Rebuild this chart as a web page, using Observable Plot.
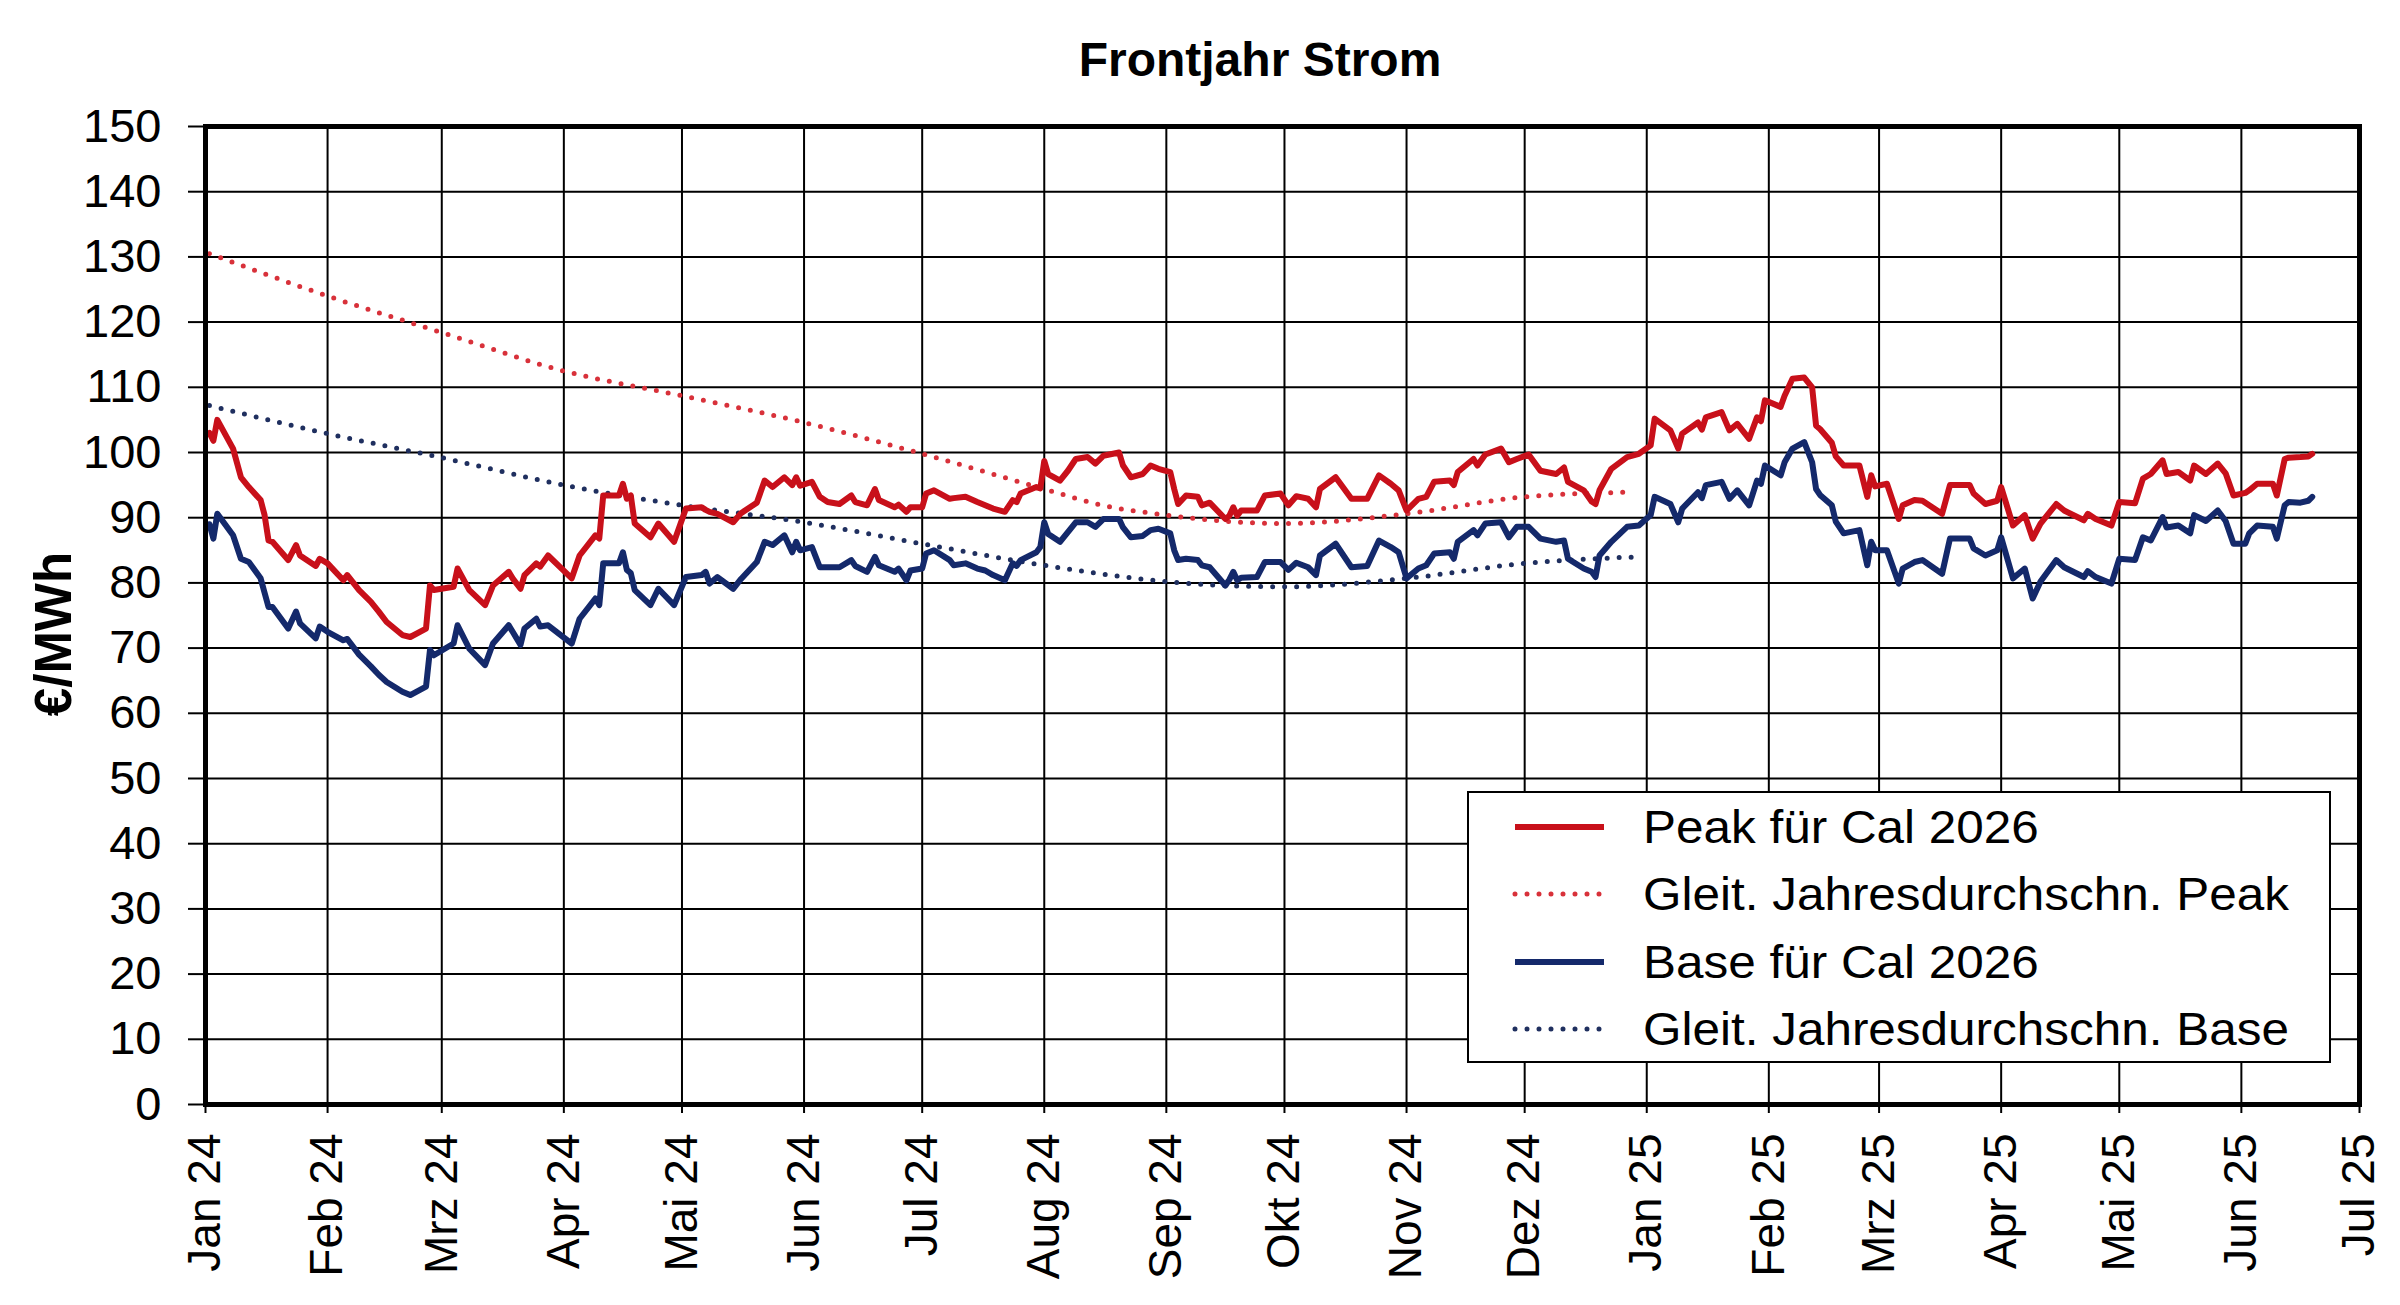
<!DOCTYPE html>
<html>
<head>
<meta charset="utf-8">
<script src="https://cdn.jsdelivr.net/npm/d3@7"></script>
<script src="https://cdn.jsdelivr.net/npm/@observablehq/plot@0.6"></script>
<style>
  html, body { margin: 0; padding: 0; background: #fff; }
  #wrap { position: relative; width: 2400px; height: 1305px; font-family: "Liberation Sans", Arial, sans-serif; color: #000; }
  #title { height: 100px; box-sizing: border-box; padding-top: 36px; padding-left: 120px; text-align: center; font-size: 48px; line-height: 48px; font-weight: bold; }
  #ylabel { position: absolute; left: 53px; top: 634px; transform: translate(-50%, -50%) rotate(-90deg); font-size: 51px; line-height: 51px; font-weight: bold; white-space: nowrap; }
  #legend { position: absolute; left: 1467px; top: 791px; width: 864px; height: 272px; box-sizing: border-box; border: 2px solid #000; background: #fff; }
  .row { height: 67.5px; display: flex; align-items: center; font-size: 46px; }
  .row svg { margin-left: 43px; margin-right: 36px; flex: none; }
  .row span { display: inline-block; transform: scaleX(1.075); transform-origin: left center; white-space: nowrap; }
  g[aria-label="y-axis tick label"] { font-size: 47px; }
</style>
</head>
<body>
<div id="wrap">
  <div id="title">Frontjahr Strom</div>
  <div id="chart"></div>
  <div id="ylabel">€/MWh</div>
  <div id="legend"></div>
</div>
<script>
// ---- Daily settlement prices, €/MWh ----
const dates = [
"2024-01-02","2024-01-03","2024-01-04","2024-01-08","2024-01-10","2024-01-12","2024-01-15","2024-01-16","2024-01-17","2024-01-18",
"2024-01-22","2024-01-24","2024-01-25","2024-01-29","2024-01-30","2024-02-01","2024-02-05","2024-02-06","2024-02-09","2024-02-12",
"2024-02-14","2024-02-16","2024-02-20","2024-02-22","2024-02-26","2024-02-27","2024-02-28","2024-03-04","2024-03-05","2024-03-08",
"2024-03-12","2024-03-14","2024-03-18","2024-03-19","2024-03-21","2024-03-22","2024-03-25","2024-03-26","2024-03-28","2024-04-03",
"2024-04-05","2024-04-09","2024-04-10","2024-04-11","2024-04-15","2024-04-16","2024-04-17","2024-04-18","2024-04-19","2024-04-23",
"2024-04-25","2024-04-29","2024-05-02","2024-05-06","2024-05-07","2024-05-08","2024-05-10","2024-05-14","2024-05-16","2024-05-20",
"2024-05-22","2024-05-24","2024-05-27","2024-05-29","2024-05-30","2024-05-31","2024-06-03","2024-06-05","2024-06-07","2024-06-10",
"2024-06-13","2024-06-14","2024-06-17","2024-06-19","2024-06-20","2024-06-24","2024-06-25","2024-06-27","2024-06-28","2024-07-01",
"2024-07-02","2024-07-04","2024-07-08","2024-07-09","2024-07-12","2024-07-15","2024-07-17","2024-07-19","2024-07-22","2024-07-24",
"2024-07-25","2024-07-26","2024-07-30","2024-07-31","2024-08-01","2024-08-02","2024-08-05","2024-08-07","2024-08-09","2024-08-12",
"2024-08-14","2024-08-16","2024-08-20","2024-08-21","2024-08-23","2024-08-26","2024-08-28","2024-08-30","2024-09-02","2024-09-03",
"2024-09-04","2024-09-06","2024-09-09","2024-09-10","2024-09-12","2024-09-16","2024-09-17","2024-09-18","2024-09-19","2024-09-20",
"2024-09-24","2024-09-26","2024-09-30","2024-10-02","2024-10-04","2024-10-07","2024-10-09","2024-10-10","2024-10-14","2024-10-18",
"2024-10-22","2024-10-25","2024-10-28","2024-10-30","2024-11-01","2024-11-04","2024-11-06","2024-11-08","2024-11-12","2024-11-13",
"2024-11-14","2024-11-18","2024-11-19","2024-11-21","2024-11-25","2024-11-27","2024-11-29","2024-12-02","2024-12-05","2024-12-09",
"2024-12-11","2024-12-12","2024-12-16","2024-12-18","2024-12-19","2024-12-20","2024-12-23","2024-12-27","2024-12-30","2025-01-02",
"2025-01-03","2025-01-07","2025-01-09","2025-01-10","2025-01-14","2025-01-15","2025-01-16","2025-01-20","2025-01-22","2025-01-24",
"2025-01-27","2025-01-29","2025-01-30","2025-01-31","2025-02-04","2025-02-05","2025-02-07","2025-02-10","2025-02-12","2025-02-13",
"2025-02-14","2025-02-17","2025-02-18","2025-02-20","2025-02-24","2025-02-26","2025-02-27","2025-02-28","2025-03-03","2025-03-06",
"2025-03-07","2025-03-10","2025-03-12","2025-03-17","2025-03-19","2025-03-24","2025-03-25","2025-03-28","2025-03-31","2025-04-01",
"2025-04-04","2025-04-07","2025-04-09","2025-04-11","2025-04-15","2025-04-17","2025-04-22","2025-04-23","2025-04-25","2025-04-29",
"2025-05-01","2025-05-05","2025-05-07","2025-05-09","2025-05-12","2025-05-13","2025-05-16","2025-05-19","2025-05-20","2025-05-23",
"2025-05-26","2025-05-28","2025-05-30","2025-06-02","2025-06-03","2025-06-05","2025-06-09","2025-06-10","2025-06-12","2025-06-13",
"2025-06-16","2025-06-18","2025-06-19"
];
const peak = [
103.0,101.8,105.0,100.6,96.2,94.7,92.7,90.4,86.5,86.3,
83.5,85.8,84.2,82.6,83.7,83.0,80.4,81.2,78.9,77.1,
75.6,74.0,72.0,71.7,73.0,79.6,78.9,79.4,82.2,78.9,
76.6,79.6,81.7,80.7,79.1,81.2,83.0,82.5,84.2,80.7,
84.2,87.3,86.8,93.4,93.4,95.2,92.9,93.4,89.1,87.0,
89.1,86.3,91.4,91.6,91.2,90.9,90.6,89.3,90.7,92.3,
95.7,94.7,96.2,95.0,96.2,94.9,95.5,93.2,92.4,92.1,
93.4,92.4,91.9,94.4,92.7,91.6,92.0,90.9,91.6,91.6,
93.7,94.2,92.9,93.0,93.2,92.4,91.9,91.4,90.9,92.7,
92.4,93.7,94.7,94.5,98.7,96.7,95.7,97.2,99.0,99.3,
98.3,99.5,100.0,98.0,96.2,96.7,98.0,97.5,97.0,94.4,
92.1,93.4,93.2,91.9,92.3,89.8,90.3,91.6,90.3,91.1,
91.1,93.4,93.7,91.9,93.3,92.9,91.6,94.4,96.2,92.9,
92.9,96.5,95.2,94.2,91.1,92.9,93.2,95.5,95.7,95.0,
97.0,99.0,98.0,99.7,100.6,98.5,99.0,99.7,97.2,96.7,
97.7,95.5,94.2,92.5,92.1,94.2,97.5,99.3,99.8,101.1,
105.2,103.4,100.6,102.9,104.6,103.5,105.4,106.2,103.4,104.4,
102.1,105.4,104.8,108.0,107.0,108.7,111.3,111.5,110.0,104.1,
103.6,101.5,99.4,98.0,98.0,93.2,96.5,94.8,95.2,89.8,
91.9,92.7,92.6,90.6,95.0,95.0,93.7,92.1,92.6,94.7,
88.8,90.4,86.8,89.1,92.1,91.1,89.6,90.6,89.8,88.8,
92.4,92.2,96.0,96.7,98.8,96.7,97.0,95.7,98.0,96.7,
98.3,96.8,93.4,93.8,94.2,95.2,95.2,93.4,99.0,99.2,
99.3,99.4,99.8
];
const base = [
89.0,86.8,90.6,87.3,83.7,83.2,80.7,78.5,76.3,76.3,
73.0,75.6,73.8,71.5,73.3,72.5,71.2,71.4,69.0,67.2,
65.9,64.8,63.3,62.8,64.1,69.7,68.9,70.7,73.5,69.9,
67.4,70.7,73.5,72.5,70.5,73.0,74.5,73.3,73.5,70.7,
74.5,77.6,76.6,83.0,83.0,84.7,82.0,81.5,78.9,76.6,
79.1,76.6,80.9,81.2,81.7,79.9,80.9,79.1,80.6,83.2,
86.3,85.8,87.3,84.7,86.3,85.0,85.5,82.4,82.4,82.4,
83.5,82.6,81.7,84.0,82.7,81.7,82.2,80.4,81.9,82.2,
84.5,85.0,83.5,82.7,83.0,82.2,81.9,81.2,80.4,83.0,
82.6,83.5,84.7,85.5,89.3,87.5,86.3,87.8,89.3,89.3,
88.6,89.8,89.8,88.5,87.0,87.2,88.1,88.3,87.6,85.0,
83.5,83.7,83.5,82.7,82.4,79.6,80.5,81.7,80.4,80.8,
80.9,83.2,83.2,82.0,83.1,82.4,81.2,84.2,86.0,82.4,
82.6,86.5,85.5,84.7,80.7,82.2,82.7,84.5,84.7,83.7,
86.3,88.1,87.3,89.1,89.3,87.0,88.6,88.6,86.8,86.3,
86.5,83.7,82.2,81.7,80.9,84.2,86.3,88.6,88.8,90.4,
93.2,92.1,89.3,91.4,93.9,93.0,95.0,95.5,92.9,94.2,
91.9,95.7,95.2,98.0,96.5,98.5,100.6,101.6,98.5,94.4,
93.5,91.9,89.4,87.6,88.1,82.7,86.3,85.0,85.0,79.9,
82.2,83.2,83.5,81.4,86.8,86.8,85.3,84.2,85.0,87.0,
80.7,82.2,77.6,80.2,83.5,82.4,80.9,81.8,80.9,79.9,
83.7,83.5,87.0,86.5,90.1,88.5,88.8,87.6,90.4,89.5,
91.1,89.5,86.0,86.0,87.6,88.8,88.6,86.8,91.9,92.4,
92.3,92.6,93.2
];

// ---- Rolling yearly averages ----
const avgPeakDates = ["2024-01-02","2024-02-01","2024-03-01","2024-04-01","2024-05-01","2024-06-01","2024-07-01","2024-08-01","2024-08-15","2024-09-01","2024-09-15","2024-10-01","2024-11-01","2024-12-01","2024-12-27"];
const avgPeak      = [130.5, 124.0, 118.4, 112.5, 108.7, 104.6, 99.8, 94.4, 92.0, 90.4, 89.5, 89.1, 90.6, 93.2, 93.9];
const avgBaseDates = ["2024-01-02","2024-02-01","2024-03-01","2024-04-01","2024-05-01","2024-06-01","2024-07-01","2024-08-01","2024-09-01","2024-10-01","2024-11-01","2024-12-01","2024-12-30"];
const avgBase      = [107.2, 102.9, 99.2, 95.0, 91.9, 89.3, 86.0, 82.7, 80.2, 79.4, 80.7, 83.0, 84.0];

// ---- Axes ----
const monthTicks = ["2024-01-01","2024-02-01","2024-03-01","2024-04-01","2024-05-01","2024-06-01","2024-07-01","2024-08-01","2024-09-01","2024-10-01","2024-11-01","2024-12-01","2025-01-01","2025-02-01","2025-03-01","2025-04-01","2025-05-01","2025-06-01","2025-07-01"];
const monthLabels = ["Jan 24","Feb 24","Mrz 24","Apr 24","Mai 24","Jun 24","Jul 24","Aug 24","Sep 24","Okt 24","Nov 24","Dez 24","Jan 25","Feb 25","Mrz 25","Apr 25","Mai 25","Jun 25","Jul 25"];
const yTicks = [0,10,20,30,40,50,60,70,80,90,100,110,120,130,140,150];

const seriesNames = ["Peak für Cal 2026","Gleit. Jahresdurchschn. Peak","Base für Cal 2026","Gleit. Jahresdurchschn. Base"];
const colors = {peak: "#C8101A", avgPeak: "#D8313A", base: "#14296B", avgBase: "#1F2F5F"};

const parse = s => new Date(s + "T00:00:00Z");
const daily = dates.map((d, i) => ({date: parse(d), peak: peak[i], base: base[i]}));
const avgP = avgPeakDates.map((d, i) => ({date: parse(d), v: avgPeak[i]}));
const avgB = avgBaseDates.map((d, i) => ({date: parse(d), v: avgBase[i]}));
const ticks = monthTicks.map(parse);
const labelByTime = new Map(ticks.map((d, i) => [+d, monthLabels[i]]));

const chart = Plot.plot({
  width: 2400,
  height: 1205,
  marginTop: 26,
  marginBottom: 201,
  marginLeft: 205,
  marginRight: 41,
  style: {fontFamily: "'Liberation Sans', Arial, sans-serif", fontSize: "46px", color: "#000", background: "#fff"},
  x: {type: "utc", domain: [ticks[0], ticks[ticks.length - 1]]},
  y: {domain: [0, 150]},
  marks: [
    Plot.ruleX(ticks, {stroke: "#000", strokeWidth: 2}),
    Plot.ruleY(yTicks, {stroke: "#000", strokeWidth: 2}),
    Plot.line(avgP, {x: "date", y: "v", stroke: colors.avgPeak, strokeWidth: 5, strokeDasharray: "0 12", strokeLinecap: "round", curve: "monotone-x"}),
    Plot.line(avgB, {x: "date", y: "v", stroke: colors.avgBase, strokeWidth: 5, strokeDasharray: "0 12", strokeLinecap: "round", curve: "monotone-x"}),
    Plot.line(daily, {x: "date", y: "base", stroke: colors.base, strokeWidth: 6, strokeLinejoin: "round"}),
    Plot.line(daily, {x: "date", y: "peak", stroke: colors.peak, strokeWidth: 6, strokeLinejoin: "round"}),
    Plot.axisY({ticks: yTicks, tickSize: 17, tickPadding: 27, strokeWidth: 2, label: null}),
    Plot.axisX({ticks: ticks, tickSize: 9, tickPadding: 20, strokeWidth: 2, tickRotate: -90, tickFormat: d => labelByTime.get(+d), label: null}),
    Plot.frame({stroke: "#000", strokeWidth: 5})
  ]
});
document.getElementById("chart").appendChild(chart);

// ---- Legend ----
const legendItems = [
  {name: seriesNames[0], color: colors.peak, dash: null, w: 6},
  {name: seriesNames[1], color: colors.avgPeak, dash: "0 12", w: 5},
  {name: seriesNames[2], color: colors.base, dash: null, w: 6},
  {name: seriesNames[3], color: colors.avgBase, dash: "0 12", w: 5}
];
const legend = d3.select("#legend");
for (const it of legendItems) {
  const row = legend.append("div").attr("class", "row");
  const s = row.append("svg").attr("width", 95).attr("height", 20);
  s.append("line").attr("x1", 3).attr("x2", 92).attr("y1", 10).attr("y2", 10)
    .attr("stroke", it.color).attr("stroke-width", it.w)
    .attr("stroke-dasharray", it.dash).attr("stroke-linecap", it.dash ? "round" : "butt");
  row.append("span").text(it.name);
}
</script>
</body>
</html>
